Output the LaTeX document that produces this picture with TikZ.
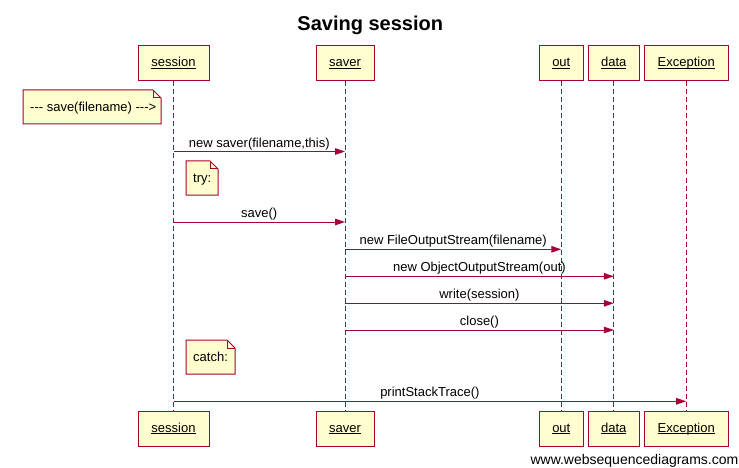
\documentclass[tikz,border=0pt]{standalone}
\usepackage{fontspec}
\setmainfont{Liberation Sans}
\usetikzlibrary{arrows.meta}
\definecolor{wsdline}{HTML}{A80036}
\definecolor{wsdfill}{HTML}{FEFECE}
\newcommand{\actorfont}{\fontsize{13}{15}\selectfont}
\newcommand{\ulname}[1]{\setbox0\hbox{#1}\rlap{\rule[-2pt]{\wd0}{0.9pt}}\box0}
\begin{document}
\begin{tikzpicture}[x=1pt,y=-1pt,
  actor/.style={draw=wsdline, fill=wsdfill, line width=1pt, minimum height=35pt, inner sep=0pt, text height=9.5pt, text depth=3pt, font=\actorfont},
  lifeline/.style={draw=wsdline, line width=1pt, dash pattern=on 5pt off 3pt},
  msg/.style={draw=wsdline, line width=1pt, -{Triangle[length=10pt,width=6.5pt]}},
  msglabel/.style={anchor=base, inner sep=0pt, font=\actorfont},
  notebox/.style={draw=wsdline, fill=wsdfill, line width=1pt, line join=miter},
  notetext/.style={anchor=base west, inner sep=0pt, font=\actorfont}
]
\useasboundingbox (0,0) rectangle (739,468);
\fill[white] (0,0) rectangle (739,468);

% title
\node[anchor=base, inner sep=0pt, font=\fontsize{20}{24}\selectfont\bfseries] (title) at (370.3,31) {Saving session};

% actors top
\node[actor, minimum width=71pt] (sessT) at (173.5,63.5) {\ulname{session}};
\node[actor, minimum width=58pt] (saverT) at (345,63.5) {\ulname{saver}};
\node[actor, minimum width=44pt] (outT) at (561.3,63.5) {\ulname{out}};
\node[actor, minimum width=51pt] (dataT) at (613.8,63.5) {\ulname{data}};
\node[actor, minimum width=84pt] (excT) at (686.2,63.5) {\ulname{Exception}};
% actors bottom
\node[actor, minimum width=71pt] (sessB) at (173.5,429) {\ulname{session}};
\node[actor, minimum width=58pt] (saverB) at (345,429) {\ulname{saver}};
\node[actor, minimum width=44pt] (outB) at (561.3,429) {\ulname{out}};
\node[actor, minimum width=51pt] (dataB) at (613.8,429) {\ulname{data}};
\node[actor, minimum width=84pt] (excB) at (686.2,429) {\ulname{Exception}};

% lifelines
\draw[lifeline] (sessT.south) -- (sessB.north);
\draw[lifeline] (saverT.south) -- (saverB.north);
\draw[lifeline] (outT.south) -- (outB.north);
\draw[lifeline] (dataT.south) -- (dataB.north);
\draw[lifeline] (excT.south) -- (excB.north);

% notes
\draw[notebox] (23,90) -- (153,90) -- (161,98) -- (161,124) -- (23,124) -- cycle;
\draw[wsdline, line width=1pt] (153,90) -- (153,98) -- (161,98);
\node[notetext] (n1) at (30,111.5) {{-}{-}{-} save(filename) {-}{-}{-}\textgreater};

\draw[notebox] (186,161) -- (210,161) -- (218,169) -- (218,195) -- (186,195) -- cycle;
\draw[wsdline, line width=1pt] (210,161) -- (210,169) -- (218,169);
\node[notetext] (n2) at (193,182.5) {try:};

\draw[notebox] (186,340) -- (227,340) -- (235,348) -- (235,374) -- (186,374) -- cycle;
\draw[wsdline, line width=1pt] (227,340) -- (227,348) -- (235,348);
\node[notetext] (n3) at (193,361.5) {catch:};

% message endpoints
\coordinate (m1a) at (sessT.south |- 0,151.5);
\coordinate (m1b) at (saverT.south |- 0,151.5);
\coordinate (m2a) at (sessT.south |- 0,222);
\coordinate (m2b) at (saverT.south |- 0,222);
\coordinate (m3a) at (saverT.south |- 0,249.3);
\coordinate (m3b) at (outT.south |- 0,249.3);
\coordinate (m4a) at (saverT.south |- 0,276.3);
\coordinate (m4b) at (dataT.south |- 0,276.3);
\coordinate (m5a) at (saverT.south |- 0,303.3);
\coordinate (m5b) at (dataT.south |- 0,303.3);
\coordinate (m6a) at (saverT.south |- 0,330);
\coordinate (m6b) at (dataT.south |- 0,330);
\coordinate (m7a) at (sessT.south |- 0,401.3);
\coordinate (m7b) at (excT.south |- 0,401.3);

\draw[msg] (m1a) -- (m1b) node[msglabel, midway, yshift=4.5pt] (l1) {new saver(filename,this)};
\draw[msg] (m2a) -- (m2b) node[msglabel, midway, yshift=4.5pt] (l2) {save()};
\draw[msg] (m3a) -- (m3b) node[msglabel, midway, yshift=4.5pt] (l3) {new FileOutputStream(filename)};
\draw[msg] (m4a) -- (m4b) node[msglabel, midway, yshift=4.5pt] (l4) {new ObjectOutputStream(out)};
\draw[msg] (m5a) -- (m5b) node[msglabel, midway, yshift=4.5pt] (l5) {write(session)};
\draw[msg] (m6a) -- (m6b) node[msglabel, midway, yshift=4.5pt] (l6) {close()};
\draw[msg] (m7a) -- (m7b) node[msglabel, midway, yshift=4.5pt] (l7) {printStackTrace()};

% watermark
\node[anchor=base east, inner sep=0pt, font=\fontsize{14}{16}\selectfont] (wm) at (738.5,464) {www.websequencediagrams.com};
\end{tikzpicture}
\end{document}
